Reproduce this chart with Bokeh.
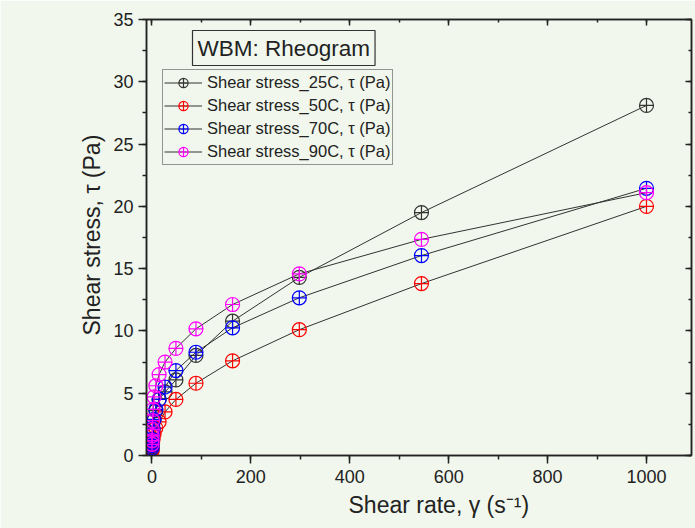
from bokeh.plotting import figure
from bokeh.models import (Range1d, LinearAxis, SingleIntervalTicker, Legend, LegendItem, Label, Title)
from bokeh.embed import file_html
from bokeh.resources import INLINE

# ---- data ----
shear_rate = [0.12, 0.21, 0.39, 0.71, 1.29, 2.37, 4.3, 7.9, 14.5, 26.5, 48.5, 89, 163, 298, 545, 1000]
stress_25C = [0.5, 0.7, 0.9, 1.2, 1.6, 2.1, 2.8, 3.6, 4.5, 5.1, 6.07, 8.03, 10.78, 14.3, 19.5, 28.1]
stress_50C = [0.35, 0.45, 0.6, 0.8, 1.0, 1.3, 1.7, 2.2, 2.7, 3.5, 4.5, 5.8, 7.6, 10.1, 13.8, 20.0]
stress_70C = [0.6, 0.8, 1.0, 1.3, 1.7, 2.2, 2.9, 3.7, 4.5, 5.5, 6.82, 8.29, 10.25, 12.66, 16.05, 21.45]
stress_90C = [0.9, 1.2, 1.6, 2.1, 2.8, 3.7, 4.7, 5.6, 6.5, 7.5, 8.6, 10.17, 12.12, 14.58, 17.35, 21.1]
series_names = ["Shear stress_25C, \u03c4 (Pa)", "Shear stress_50C, \u03c4 (Pa)",
                "Shear stress_70C, \u03c4 (Pa)", "Shear stress_90C, \u03c4 (Pa)"]
series_colors = ["#333333", "#ff0000", "#0000ff", "#ff00ff"]
chart_title = "WBM: Rheogram"
x_label = "Shear rate, \u03b3 (s\u207b\u00b9)"
y_label = "Shear stress, \u03c4 (Pa)"
x_ticks = [0, 200, 400, 600, 800, 1000]
y_ticks = [0, 5, 10, 15, 20, 25, 30, 35]

BG = "#f1f7ec"
FONT = "Liberation Sans"
INK = "#222222"

p = figure(width=695, height=528, output_backend="svg", toolbar_location=None,
           x_range=Range1d(-11, 1091), y_range=Range1d(0, 35),
           min_border_left=146, min_border_right=4, min_border_top=19, min_border_bottom=73,
           background_fill_color=BG, border_fill_color=BG)
p.grid.visible = False
p.outline_line_color = INK
p.outline_line_width = 1.5

xt = SingleIntervalTicker(interval=200, num_minor_ticks=2)
yt = SingleIntervalTicker(interval=5, num_minor_ticks=2)
p.xaxis.ticker = xt
p.yaxis.ticker = yt

for ax in (p.xaxis[0], p.yaxis[0]):
    ax.axis_line_color = INK
    ax.axis_line_width = 1.5
    ax.major_tick_line_color = INK
    ax.major_tick_line_width = 1.5
    ax.minor_tick_line_color = INK
    ax.minor_tick_line_width = 1.5
    ax.major_tick_out = 8
    ax.major_tick_in = 0
    ax.minor_tick_out = 4
    ax.minor_tick_in = 0
    ax.major_label_text_font = FONT
    ax.major_label_text_font_size = "18px"
    ax.major_label_text_color = INK

p.xaxis.major_label_standoff = 6
p.yaxis.major_label_standoff = 5

# mirrored axes (ticks inside, no labels)
for loc, tk, vals in (("above", xt, x_ticks), ("right", yt, y_ticks)):
    a = LinearAxis(ticker=tk, axis_line_color=INK,
                   axis_line_width=1.5, major_tick_line_color=INK, major_tick_line_width=1.5,
                   minor_tick_line_color=INK, minor_tick_line_width=1.5,
                   major_tick_in=6, major_tick_out=0, minor_tick_in=3, minor_tick_out=0,
                   major_label_standoff=0, major_label_text_font_size="10px",
                   major_label_overrides={v: "" for v in vals})
    p.add_layout(a, loc)

# axis titles as side-panel titles (left-aligned with an offset along the axis)
xtitle = Title(text=x_label, align="left", offset=202, standoff=8,
               text_font=FONT, text_font_size="23px", text_font_style="normal",
               text_color=INK)
ytitle = Title(text=y_label, align="left", offset=120, standoff=12,
               text_font=FONT, text_font_size="23px", text_font_style="normal",
               text_color=INK)
p.add_layout(xtitle, "below")
p.add_layout(ytitle, "left")

items = []
for ys, name, col in zip([stress_25C, stress_50C, stress_70C, stress_90C], series_names, series_colors):
    ln = p.line(shear_rate, ys, line_color="#333333", line_width=1)
    sc = p.scatter(shear_rate, ys, marker="circle_cross", size=14, line_color=col,
                   line_width=1.2, fill_alpha=0)
    items.append(LegendItem(label=name, renderers=[ln, sc]))

legend = Legend(items=items, location=(16, 290), label_text_font=FONT,
                label_text_font_size="16.5px", label_text_color=INK,
                glyph_width=38, glyph_height=23, label_height=20, label_standoff=5,
                spacing=0, padding=1, margin=0,
                border_line_color="#333333", border_line_width=1.2,
                background_fill_color=BG, background_fill_alpha=1)
p.add_layout(legend, "center")

title = Label(x=46, y=390, x_units="screen", y_units="screen", text=chart_title,
              text_font=FONT, text_font_size="22.5px", text_color=INK,
              border_line_color="#333333", border_line_width=1.2,
              background_fill_color=BG, padding=5)
p.add_layout(title)

open("out.html", "w").write(file_html(p, INLINE))
